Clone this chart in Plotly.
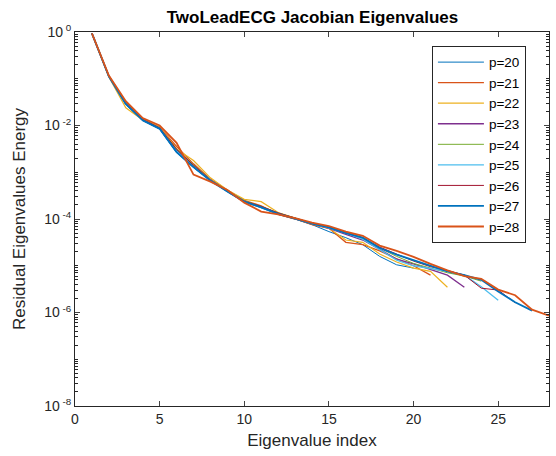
import plotly.graph_objects as go

# log10 of residual eigenvalue energy, per eigenvalue index 1..p
log_energy_p20 = [-0.03, -0.95, -1.55, -1.90, -2.08, -2.58, -2.90, -3.18, -3.42, -3.64,
                  -3.76, -3.90, -4.00, -4.12, -4.27, -4.40, -4.55, -4.80, -4.98, -5.05]
log_energy_p21 = [-0.03, -0.94, -1.50, -1.86, -2.04, -2.45, -2.82, -3.15, -3.38, -3.60,
                  -3.72, -3.90, -4.00, -4.12, -4.20, -4.50, -4.55, -4.68, -4.85, -5.00, -5.20]
log_energy_p22 = [-0.03, -0.96, -1.62, -1.88, -2.03, -2.50, -2.75, -3.12, -3.38, -3.58,
                  -3.63, -3.86, -3.98, -4.10, -4.20, -4.45, -4.50, -4.75, -4.92, -5.05,
                  -5.12, -5.46]
log_energy_p23 = [-0.03, -0.95, -1.54, -1.88, -2.06, -2.52, -2.86, -3.16, -3.40, -3.62,
                  -3.74, -3.88, -3.99, -4.10, -4.20, -4.33, -4.45, -4.65, -4.86, -4.96,
                  -5.08, -5.20, -5.46]
log_energy_p24 = [-0.03, -0.95, -1.53, -1.87, -2.05, -2.50, -2.84, -3.16, -3.39, -3.61,
                  -3.73, -3.87, -3.98, -4.09, -4.18, -4.30, -4.42, -4.62, -4.80, -4.95,
                  -5.05, -5.15, -5.22, -5.33]
log_energy_p25 = [-0.03, -0.95, -1.54, -1.88, -2.06, -2.54, -2.87, -3.17, -3.40, -3.62,
                  -3.75, -3.88, -3.99, -4.10, -4.19, -4.30, -4.43, -4.66, -4.88, -5.00,
                  -5.06, -5.12, -5.20, -5.45, -5.74]
log_energy_p26 = [-0.03, -0.95, -1.53, -1.87, -2.05, -2.51, -2.85, -3.17, -3.40, -3.62,
                  -3.73, -3.87, -3.98, -4.09, -4.17, -4.28, -4.40, -4.60, -4.75, -4.90,
                  -5.02, -5.10, -5.20, -5.48, -5.52, -5.79]
log_energy_p27 = [-0.03, -0.95, -1.54, -1.89, -2.07, -2.57, -2.89, -3.18, -3.41, -3.63,
                  -3.75, -3.89, -3.99, -4.10, -4.18, -4.30, -4.40, -4.62, -4.76, -4.88,
                  -5.00, -5.12, -5.20, -5.30, -5.55, -5.78, -5.96]
log_energy_p28 = [-0.03, -0.93, -1.48, -1.84, -2.00, -2.37, -3.05, -3.20, -3.38, -3.65,
                  -3.84, -3.90, -3.98, -4.08, -4.15, -4.27, -4.36, -4.57, -4.68, -4.81,
                  -4.96, -5.10, -5.22, -5.28, -5.51, -5.63, -5.94, -6.07]

series = [
    ("p=20", log_energy_p20, "#0072BD", 1.0),
    ("p=21", log_energy_p21, "#D95319", 1.3),
    ("p=22", log_energy_p22, "#EDB120", 1.2),
    ("p=23", log_energy_p23, "#7E2F8E", 1.3),
    ("p=24", log_energy_p24, "#77AC30", 1.0),
    ("p=25", log_energy_p25, "#4DBEEE", 1.3),
    ("p=26", log_energy_p26, "#A2142F", 1.0),
    ("p=27", log_energy_p27, "#0072BD", 1.8),
    ("p=28", log_energy_p28, "#D95319", 1.8),
]

y_tickvals = [1e0, 1e-2, 1e-4, 1e-6, 1e-8]
y_ticktext = ["10<sup> 0</sup>", "10<sup> -2</sup>", "10<sup> -4</sup>", "10<sup> -6</sup>", "10<sup> -8</sup>"]
x_tickvals = [0, 5, 10, 15, 20, 25]

minor_vals = []
for k in range(-8, 0):
    if k % 2 != 0:
        minor_vals.append(10.0 ** k)
    for m in range(2, 10):
        minor_vals.append(m * 10.0 ** k)

fig = go.Figure()
for name, logs, color, width in series:
    idx = list(range(1, len(logs) + 1))
    vals = [10.0 ** v for v in logs]
    fig.add_trace(go.Scatter(x=idx, y=vals, mode="lines", name=name,
                             line=dict(color=color, width=width)))

axis_col = "#262626"
fig.update_layout(
    width=556, height=456,
    margin=dict(l=75, r=7, t=32, b=50),
    paper_bgcolor="white", plot_bgcolor="white",
    font=dict(family="Liberation Sans, Arial, sans-serif", size=14, color=axis_col),
    title=dict(text="<b>TwoLeadECG Jacobian Eigenvalues</b>", x=0.562, xanchor="center",
               y=0.962, yanchor="middle", font=dict(size=17, color="black")),
    showlegend=True,
    legend=dict(x=0.753, y=0.963, xanchor="left", yanchor="top",
                bordercolor=axis_col, borderwidth=1, bgcolor="white",
                font=dict(size=13.5, color="black"), tracegroupgap=0,
                itemwidth=46, entrywidth=64, entrywidthmode="pixels"),
    xaxis=dict(range=[0, 28], tickvals=x_tickvals, ticks="inside", ticklen=5,
               showline=True, linecolor=axis_col, linewidth=1, mirror="ticks",
               showgrid=False, zeroline=False,
               title=dict(text="Eigenvalue index", standoff=8, font=dict(size=17))),
    yaxis=dict(type="log", range=[-8, 0], tickvals=y_tickvals, ticktext=y_ticktext,
               ticks="inside", ticklen=5, showline=True, linecolor=axis_col, linewidth=1,
               mirror="ticks", showgrid=False, zeroline=False,
               minor=dict(tickvals=minor_vals, ticks="inside", ticklen=3, tickcolor=axis_col),
               title=dict(text="Residual Eigenvalues Energy", standoff=14, font=dict(size=17))),
)

fig.write_html("out.html")
